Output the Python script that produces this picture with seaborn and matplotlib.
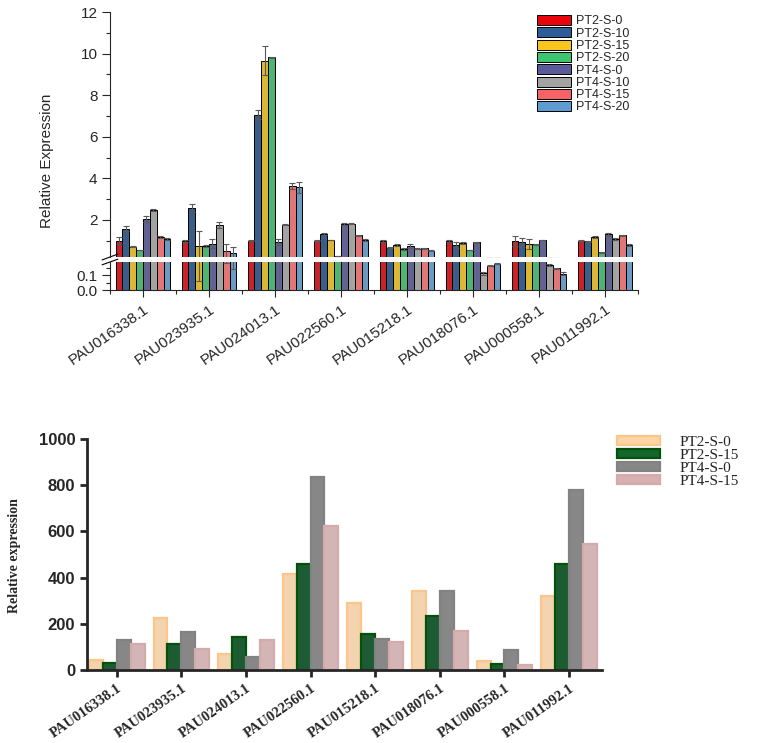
import numpy as np
import pandas as pd
import matplotlib
matplotlib.use('Agg')
import matplotlib.pyplot as plt
from matplotlib.patches import Patch
from matplotlib.ticker import MultipleLocator, FormatStrFormatter
import seaborn as sns

genes = ['PAU016338.1', 'PAU023935.1', 'PAU024013.1', 'PAU022560.1',
         'PAU015218.1', 'PAU018076.1', 'PAU000558.1', 'PAU011992.1']

# top panel: 8 treatments, broken y axis
top_series = ['PT2-S-0', 'PT2-S-10', 'PT2-S-15', 'PT2-S-20',
              'PT4-S-0', 'PT4-S-10', 'PT4-S-15', 'PT4-S-20']
top_colors = ['#E8060C', '#2D5D96', '#F7C51C', '#3DC46E',
              '#5B5B9A', '#A3A3A3', '#F46466', '#5E9BD1']

pt2_s0 = [1.0, 1.0, 1.0, 1.0, 1.0, 1.0, 1.0, 1.0]
pt2_s10 = [1.58, 2.56, 7.06, 1.31, 0.67, 0.80, 0.93, 0.97]
pt2_s15 = [0.71, 0.76, 9.66, 1.04, 0.80, 0.88, 0.86, 1.18]
pt2_s20 = [0.56, 0.75, 9.83, 0.27, 0.59, 0.56, 0.83, 0.44]
pt4_s0 = [2.05, 0.86, 0.93, 1.79, 0.75, 0.93, 1.04, 1.31]
pt4_s10 = [2.48, 1.77, 1.77, 1.82, 0.62, 0.111, 0.167, 1.07]
pt4_s15 = [1.17, 0.52, 3.64, 1.26, 0.64, 0.162, 0.145, 1.26]
pt4_s20 = [1.09, 0.43, 3.57, 1.04, 0.52, 0.175, 0.11, 0.80]

err_pt2_s0 = [0.16, 0.05, 0.03, 0.02, 0.05, 0.05, 0.24, 0.02]
err_pt2_s10 = [0.11, 0.20, 0.22, 0.04, 0.02, 0.16, 0.22, 0.02]
err_pt2_s15 = [0.03, 0.70, 0.70, 0.02, 0.05, 0.05, 0.24, 0.05]
err_pt2_s20 = [0.02, 0.03, 0.02, 0.01, 0.04, 0.02, 0.03, 0.02]
err_pt4_s0 = [0.16, 0.21, 0.14, 0.05, 0.10, 0.02, 0.02, 0.08]
err_pt4_s10 = [0.03, 0.15, 0.02, 0.03, 0.03, 0.01, 0.005, 0.05]
err_pt4_s15 = [0.05, 0.34, 0.16, 0.02, 0.02, 0.003, 0.003, 0.02]
err_pt4_s20 = [0.05, 0.29, 0.27, 0.03, 0.03, 0.003, 0.01, 0.03]

top_vals = dict(zip(top_series, [pt2_s0, pt2_s10, pt2_s15, pt2_s20,
                                 pt4_s0, pt4_s10, pt4_s15, pt4_s20]))
top_errs = dict(zip(top_series, [err_pt2_s0, err_pt2_s10, err_pt2_s15, err_pt2_s20,
                                 err_pt4_s0, err_pt4_s10, err_pt4_s15, err_pt4_s20]))

# bottom panel: 4 treatments
bot_series = ['PT2-S-0', 'PT2-S-15', 'PT4-S-0', 'PT4-S-15']
bot_fill = ['#FFD4A4', '#12662E', '#878787', '#D8B0B0']
bot_edge = ['#FCC58A', '#04520A', '#828282', '#D4AAAA']
b_pt2_s0 = [45, 225, 69, 415, 291, 340, 37, 320]
b_pt2_s15 = [30, 112, 144, 459, 157, 234, 26, 460]
b_pt4_s0 = [131, 163, 55, 834, 134, 340, 87, 780]
b_pt4_s15 = [112, 91, 128, 622, 120, 167, 23, 545]
bot_vals = dict(zip(bot_series, [b_pt2_s0, b_pt2_s15, b_pt4_s0, b_pt4_s15]))

top_df = pd.DataFrame([(g, s, top_vals[s][i]) for s in top_series for i, g in enumerate(genes)],
                      columns=['gene', 'series', 'value'])
bot_df = pd.DataFrame([(g, s, bot_vals[s][i]) for s in bot_series for i, g in enumerate(genes)],
                      columns=['gene', 'series', 'value'])

sns.set_style('ticks')
plt.rcParams['font.family'] = ['Liberation Sans', 'DejaVu Sans']

W, H = 757, 743
fig = plt.figure(figsize=(W / 100, H / 100), dpi=100)
ax_hi = fig.add_axes([110 / W, 1 - 257 / H, 528 / W, 245 / H])
ax_lo = fig.add_axes([110 / W, 1 - 290 / H, 528 / W, 28 / H])
ax_b = fig.add_axes([87 / W, 1 - 670 / H, 515 / W, 231 / H])

for ax in (ax_hi, ax_lo):
    sns.barplot(data=top_df, x='gene', y='value', hue='series', order=genes,
                hue_order=top_series, palette=top_colors, width=0.83,
                edgecolor='black', linewidth=0.7, errorbar=None, legend=False, ax=ax)
    for cont, name in zip(ax.containers, top_series):
        xs = [p.get_x() + p.get_width() / 2 for p in cont]
        ax.errorbar(xs, top_vals[name], yerr=top_errs[name], fmt='none',
                    ecolor='#5a5a5a', elinewidth=0.8, capsize=2.5, capthick=0.8, zorder=5)
    ax.set_xlim(-0.5, 7.5)
    ax.set_xlabel('')
    ax.set_ylabel('')
    ax.spines['top'].set_visible(False)
    ax.spines['right'].set_visible(False)
    ax.tick_params(axis='y', which='major', length=5.5, width=0.8, labelsize=11)
    ax.tick_params(axis='y', which='minor', length=3, width=0.8)

ax_hi.set_ylim(0.22, 12)
ax_hi.yaxis.set_major_locator(MultipleLocator(2))
ax_hi.yaxis.set_minor_locator(MultipleLocator(1))
ax_hi.spines['bottom'].set_visible(False)
ax_hi.tick_params(axis='x', which='both', bottom=False, labelbottom=False)

ax_lo.set_ylim(0, 0.187)
ax_lo.yaxis.set_major_locator(MultipleLocator(0.1))
ax_lo.yaxis.set_minor_locator(MultipleLocator(0.05))
ax_lo.yaxis.set_major_formatter(FormatStrFormatter('%.1f'))
ax_lo.set_xticks(range(len(genes)))
ax_lo.set_xticks(np.arange(-0.5, 8, 1), minor=True)
ax_lo.set_xticklabels(genes, rotation=35, ha='right', rotation_mode='anchor', fontsize=11)
ax_lo.tick_params(axis='x', which='major', length=5, width=0.8)
ax_lo.tick_params(axis='x', which='minor', length=3, width=0.8)

# break marks on the y axis
for ax, y in ((ax_hi, 0.0), (ax_lo, 1.0)):
    dy = 0.012 if ax is ax_hi else 0.1
    ax.plot([-0.015, 0.015], [y - dy, y + dy], transform=ax.transAxes,
            color='black', lw=0.8, clip_on=False)

fig.text(47 / W, 1 - 161 / H, 'Relative Expression', rotation=90,
         ha='center', va='center', fontsize=11)

top_handles = [Patch(facecolor=c, edgecolor='black', linewidth=0.7) for c in top_colors]
fig.legend(top_handles, top_series, loc='upper left', bbox_to_anchor=(537 / W, 1 - 15 / H),
           frameon=False, fontsize=9, handlelength=2.7, handleheight=0.85,
           labelspacing=0.0, handletextpad=0.45, borderpad=0, borderaxespad=0)

# bottom panel
sns.barplot(data=bot_df, x='gene', y='value', hue='series', order=genes,
            hue_order=bot_series, palette=bot_fill, width=0.86, linewidth=0,
            errorbar=None, legend=False, ax=ax_b)
for cont, ec in zip(ax_b.containers, bot_edge):
    for p in cont:
        p.set_edgecolor(ec)
        p.set_linewidth(1.6)

ax_b.set_xlim(-0.46, 7.51)
ax_b.set_ylim(0, 1000)
ax_b.set_yticks(range(0, 1001, 200))
ax_b.set_xlabel('')
ax_b.set_ylabel('')
ax_b.spines['top'].set_visible(False)
ax_b.spines['right'].set_visible(False)
ax_b.spines['left'].set_linewidth(2)
ax_b.spines['bottom'].set_linewidth(2)
ax_b.tick_params(axis='both', length=5, width=2)
for lab in ax_b.get_yticklabels():
    lab.set_fontweight('bold')
    lab.set_fontsize(12)
ax_b.set_xticks(range(len(genes)))
ax_b.set_xticklabels(genes, rotation=35, ha='right', rotation_mode='anchor',
                     fontsize=10.5, fontweight='bold', family='Liberation Serif')

fig.text(15 / W, 1 - 556 / H, 'Relative expression', rotation=90, ha='center', va='center',
         fontsize=10, fontweight='bold', family='Liberation Serif')

bot_handles = [Patch(facecolor=f, edgecolor=e, linewidth=1.6) for f, e in zip(bot_fill, bot_edge)]
fig.legend(bot_handles, bot_series, loc='upper left', bbox_to_anchor=(617 / W, 1 - 436 / H),
           frameon=False, prop={'family': 'Liberation Serif', 'size': 11},
           handlelength=2.8, handleheight=0.5, labelspacing=0.0, handletextpad=1.3,
           borderpad=0, borderaxespad=0)

fig.savefig('out.png', dpi=100)
